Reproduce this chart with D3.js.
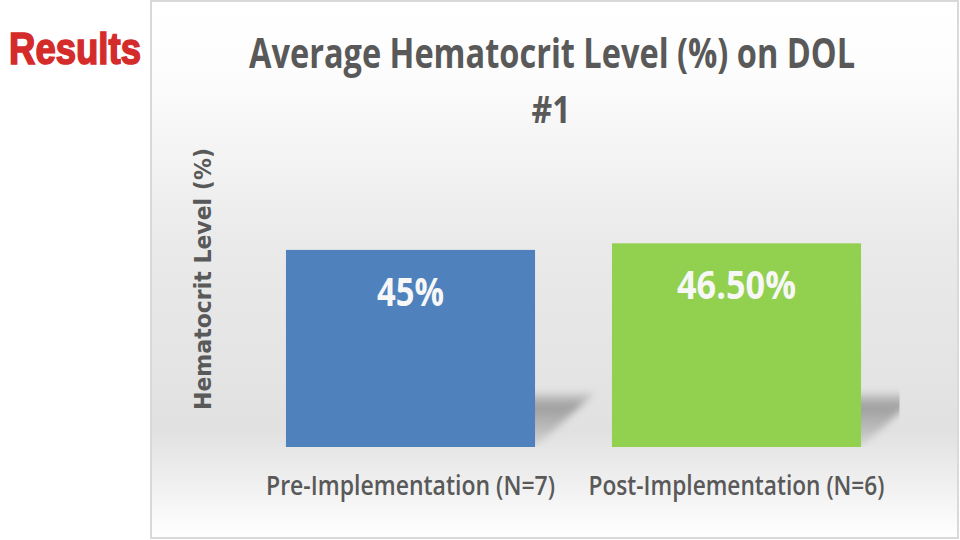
<!DOCTYPE html>
<html><head><meta charset="utf-8">
<script src="https://cdn.jsdelivr.net/npm/d3@7"></script>
<style>html,body{margin:0;padding:0;background:#fff;}svg{display:block;}</style>
</head><body>
<svg id="c" width="960" height="540"></svg>
<script>
const categories = ["Pre-Implementation (N=7)", "Post-Implementation (N=6)"];
const values = [45, 46.5];
const valueLabels = ["45%", "46.50%"];
const colors = ["#4f81bd", "#92d050"];
const titleLines = ["Average Hematocrit Level (%) on DOL", "#1"];
const yAxisTitle = "Hematocrit Level (%)";
const slideTitle = "Results";

const svg = d3.select("#c");
const defs = svg.append("defs");

const bg = defs.append("linearGradient").attr("id","bg").attr("x1",0).attr("y1",0).attr("x2",0).attr("y2",1);
[[0,"#ffffff"],[0.12,"#fdfdfd"],[0.45,"#eaeaea"],[0.8,"#e1e1e1"],[1,"#ffffff"]].forEach(s=>bg.append("stop").attr("offset",s[0]).attr("stop-color",s[1]));

const sh = defs.append("linearGradient").attr("id","sh").attr("x1",0).attr("y1",1).attr("x2",0).attr("y2",0);
sh.append("stop").attr("offset",0).attr("stop-color","#000").attr("stop-opacity",0.05);
sh.append("stop").attr("offset",0.75).attr("stop-color","#000").attr("stop-opacity",0.3);
sh.append("stop").attr("offset",1).attr("stop-color","#000").attr("stop-opacity",0.08);
defs.append("filter").attr("id","blur").attr("x","-20%").attr("y","-20%").attr("width","140%").attr("height","140%")
  .append("feGaussianBlur").attr("stdDeviation",3.5);

// slide title
svg.append("text").attr("x",9).attr("y",64).attr("textLength",132).attr("lengthAdjust","spacingAndGlyphs")
  .style("font-family","'Liberation Sans Narrow','Liberation Sans',Arial,sans-serif").style("font-weight","bold")
  .style("font-size","44px").style("fill","#d42b2b").style("stroke","#d42b2b").style("stroke-width",1.6)
  .text(slideTitle);

// panel
svg.append("rect").attr("x",151).attr("y",1).attr("width",807).attr("height",537)
  .attr("fill","url(#bg)").attr("stroke","#d9d9d9").attr("stroke-width",2);

const x = d3.scaleBand().domain(categories).range([247.5, 899.5]).paddingInner(0.236).paddingOuter(0.118);
const y = d3.scaleLinear().domain([0, 50]).range([447, 228]);

defs.append("clipPath").attr("id","plotclip").append("rect")
  .attr("x",x.range()[0]).attr("y",150).attr("width",x.range()[1]-x.range()[0]).attr("height",y(0)-150);

// shadows
const skewX = 60, skewY = 54;
svg.append("g").attr("clip-path","url(#plotclip)").selectAll("path").data(categories).join("path")
  .attr("d", d => {
    const x0 = x(d), x1 = x(d) + x.bandwidth(), b = y(0);
    return `M${x0},${b}L${x1},${b}L${x1+skewX},${b-skewY}L${x0+skewX},${b-skewY}Z`;
  })
  .attr("fill","url(#sh)").attr("filter","url(#blur)");

// bars
svg.append("g").selectAll("rect").data(categories).join("rect")
  .attr("x", d => x(d)).attr("width", x.bandwidth())
  .attr("y", (d,i) => y(values[i])).attr("height", (d,i) => y(0) - y(values[i]))
  .attr("fill", (d,i) => colors[i]);

// value labels
svg.append("g").selectAll("text").data(categories).join("text")
  .attr("x", d => x(d) + x.bandwidth()/2).attr("y", (d,i) => y(values[i]) + 56)
  .attr("text-anchor","middle")
  .attr("textLength",(d,i)=> i===0 ? 67 : 119).attr("lengthAdjust","spacingAndGlyphs")
  .style("font-family","'Open Sans',sans-serif").style("font-weight","bold").style("font-size","40px")
  .style("fill","#f7f7f7").text((d,i) => valueLabels[i]);

// category axis labels
svg.append("g").selectAll("text").data(categories).join("text")
  .attr("x", d => x(d) + x.bandwidth()/2).attr("y", 495)
  .attr("text-anchor","middle")
  .attr("textLength",(d,i)=> i===0 ? 289 : 296).attr("lengthAdjust","spacingAndGlyphs")
  .style("font-family","'Open Sans',sans-serif").style("font-weight","600").style("font-size","27px")
  .style("fill","#595959").text(d => d);

// chart title
svg.append("text").attr("transform","translate(552,68) scale(1,1.2)").attr("text-anchor","middle")
  .attr("textLength",606).attr("lengthAdjust","spacingAndGlyphs")
  .style("font-family","'Open Sans',sans-serif").style("font-weight","bold").style("font-size","34px")
  .style("fill","#595959").text(titleLines[0]);
svg.append("text").attr("transform","translate(551,123) scale(1,1.2)").attr("text-anchor","middle")
  .style("font-family","'Open Sans',sans-serif").style("font-weight","bold").style("font-size","32px")
  .style("fill","#595959").text(titleLines[1]);

// y axis title
svg.append("text").attr("transform","translate(211,279) rotate(-90)").attr("text-anchor","middle")
  .attr("textLength",262).attr("lengthAdjust","spacingAndGlyphs")
  .style("font-family","'DejaVu Sans',sans-serif").style("font-weight","bold").style("font-size","23px")
  .style("fill","#595959").text(yAxisTitle);
</script>
</body></html>
